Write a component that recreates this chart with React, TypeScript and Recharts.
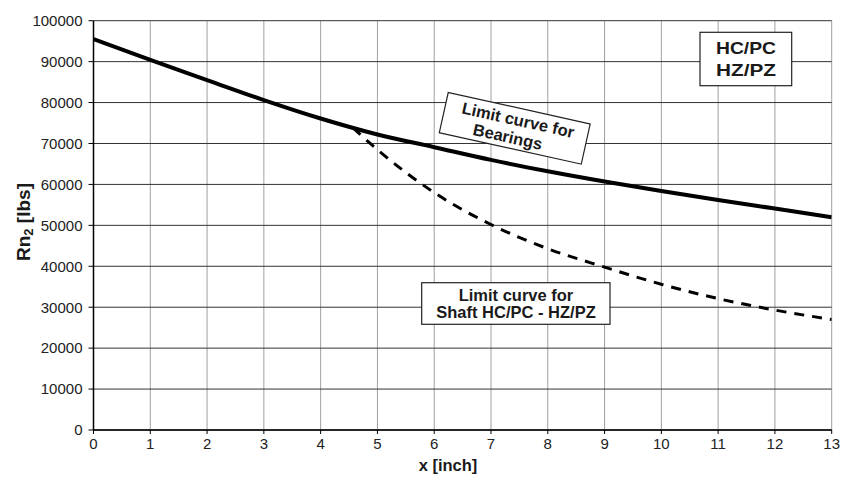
import React from "react";
import { LineChart, Line, XAxis, YAxis, CartesianGrid } from "recharts";

const xTicks = [0, 1, 2, 3, 4, 5, 6, 7, 8, 9, 10, 11, 12, 13];
const yTicks = [0, 10000, 20000, 30000, 40000, 50000, 60000, 70000, 80000, 90000, 100000];

const bearingX = [0, 1, 2, 3, 4, 5, 6, 7, 8, 9, 10, 11, 12, 13];
const bearingY = [95500, 90400, 85500, 80600, 76100, 72200, 69100, 66000, 63200, 60700, 58400, 56200, 54100, 52000];

const shaftX = [4.57, 5, 6, 7, 8, 9, 10, 11, 12, 13];
const shaftY = [73800, 68500, 58000, 50200, 44300, 39800, 35600, 32100, 29300, 27000];

const bearingData = bearingX.map((x, i) => ({ x, y: bearingY[i] }));
const shaftData = shaftX.map((x, i) => ({ x, y: shaftY[i] }));

const FONT = "'Liberation Sans', Arial, sans-serif";

export default function App() {
  return (
    <div style={{ position: "absolute", left: 0, top: 0, width: 846, height: 487, background: "#fff", fontFamily: FONT }}>
      <LineChart
        width={846}
        height={487}
        margin={{ top: 20.7, right: 14.3, bottom: 27, left: 33.5 }}
        style={{ fontFamily: FONT }}
      >
        <CartesianGrid horizontal={false} vertical={true} stroke="#a0a0a0" strokeWidth={1} />
        <CartesianGrid horizontal={true} vertical={false} stroke="#333" strokeWidth={1} />
        <XAxis
          dataKey="x"
          type="number"
          domain={[0, 13]}
          ticks={xTicks}
          interval={0}
          allowDataOverflow
          height={30}
          tickSize={4}
          tickMargin={4}
          axisLine={{ stroke: "#000", strokeWidth: 1.5 }}
          tickLine={{ stroke: "#000" }}
          tick={{ fill: "#222", fontSize: 15, fontFamily: FONT }}
        />
        <YAxis
          dataKey="y"
          type="number"
          domain={[0, 100000]}
          ticks={yTicks}
          interval={0}
          width={60}
          tickSize={5}
          tickMargin={6}
          axisLine={{ stroke: "#000", strokeWidth: 1.5 }}
          tickLine={{ stroke: "#000" }}
          tick={{ fill: "#222", fontSize: 15, fontFamily: FONT }}
        />
        <Line
          data={shaftData}
          dataKey="y"
          type="monotone"
          stroke="#000"
          strokeWidth={3}
          strokeDasharray="10 8"
          dot={false}
          activeDot={false}
          isAnimationActive={false}
        />
        <Line
          data={bearingData}
          dataKey="y"
          type="monotone"
          stroke="#000"
          strokeWidth={4}
          dot={false}
          activeDot={false}
          isAnimationActive={false}
        />
      </LineChart>
      <svg
        width={846}
        height={487}
        style={{ position: "absolute", left: 0, top: 0, pointerEvents: "none", fontFamily: FONT }}
      >
        {/* Axis titles */}
        <text x={448} y={470.5} textAnchor="middle" fontSize={16.5} fontWeight="bold" fill="#1a1a1a">
          x [inch]
        </text>
        <text
          transform="translate(30,222) rotate(-90)"
          textAnchor="middle"
          fontSize={19}
          fontWeight="bold"
          fill="#1a1a1a"
        >
          Rn<tspan fontSize={13} dy={3}>2</tspan>
          <tspan dy={-3}> [lbs]</tspan>
        </text>

        {/* HC/PC HZ/PZ box */}
        <rect x={700} y={32.3} width={91.7} height={53.4} fill="#fff" stroke="#222" strokeWidth={1.2} />
        <text x={746} y={54.3} textAnchor="middle" fontSize={16.5} fontWeight="bold" fill="#1a1a1a" textLength={60} lengthAdjust="spacingAndGlyphs">
          HC/PC
        </text>
        <text x={746} y={76} textAnchor="middle" fontSize={16.5} fontWeight="bold" fill="#1a1a1a" textLength={60} lengthAdjust="spacingAndGlyphs">
          HZ/PZ
        </text>

        {/* Shaft limit box */}
        <rect x={421.7} y={282.7} width={188.3} height={41.6} fill="#fff" stroke="#222" strokeWidth={1.2} />
        <text x={516} y={300.7} textAnchor="middle" fontSize={16.5} fontWeight="bold" fill="#1a1a1a">
          Limit curve for
        </text>
        <text x={516} y={318.3} textAnchor="middle" fontSize={16.5} fontWeight="bold" fill="#1a1a1a">
          Shaft HC/PC - HZ/PZ
        </text>

        {/* Bearings limit box (rotated) */}
        <g transform="translate(514.75,128.3) rotate(12.5)">
          <rect x={-72.7} y={-20.6} width={145.4} height={41.2} fill="#fff" stroke="#222" strokeWidth={1.2} />
          <text x={1.5} y={-3} textAnchor="middle" fontSize={16.5} fontWeight="bold" fill="#1a1a1a">
            Limit curve for
          </text>
          <text x={-5} y={15.5} textAnchor="middle" fontSize={16.5} fontWeight="bold" fill="#1a1a1a">
            Bearings
          </text>
        </g>
      </svg>
    </div>
  );
}
